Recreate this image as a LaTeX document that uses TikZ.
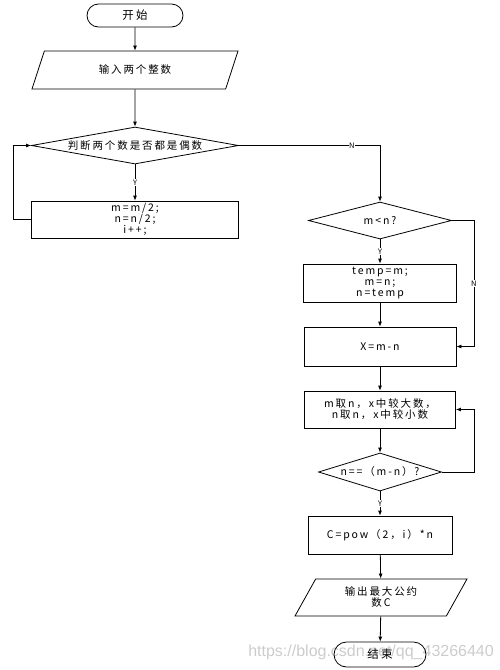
\documentclass[tikz,border=0pt]{standalone}
\usepackage{fontspec}
\setmainfont[LetterSpace=18]{Noto Sans CJK SC}
\newfontfamily\markfont{Liberation Sans}
\usetikzlibrary{shapes.geometric,arrows.meta}

\tikzset{
        box/.style={draw, line width=0.8pt, align=center, font=\fontsize{10.5}{11}\selectfont},
        term/.style={box, rounded corners=11.5pt, minimum width=96pt, minimum height=23pt, font=\fontsize{11.5}{12}\selectfont},
        proc/.style={box, inner sep=1pt},
        io/.style={box, trapezium, trapezium left angle=53, trapezium right angle=127, trapezium stretches body},
        test/.style={box, diamond, inner sep=0pt},
        yn/.style={font=\fontsize{7.5}{8}\selectfont, fill=white, inner sep=0.4pt},
        flow/.style={draw, line width=0.8pt, -{Latex[length=5pt,width=4pt]}}
}

\begin{document}
\begin{tikzpicture}[x=1pt, y=-1pt]
        \useasboundingbox (0,0) rectangle (500,670);

        \node (start) at (135,15.5) [term] {开始};
        \node (input) at (135,70) [io, minimum width=206pt, minimum height=38pt] {输入两个整数};
        \node (even) at (135,145.5) [test, minimum width=207pt, minimum height=37pt] {\makebox[0pt]{判断两个数是否都是偶数}};
        \node (half) at (135,219.5) [proc, minimum width=207pt, minimum height=37pt] {m=m/2;\\n=n/2;\\i++;};

        \node (less) at (380,220.5) [test, minimum width=143pt, minimum height=37pt] {\makebox[0pt]{m<n?}};
        \node (swap) at (380,283) [proc, minimum width=153pt, minimum height=38pt] {temp=m;\\m=n;\\n=temp};
        \node (diff) at (380,346.5) [proc, minimum width=152pt, minimum height=39pt] {X=m-n};
        \node (pick) at (380,409.5) [proc, minimum width=151pt, minimum height=37pt] {m取n，x中较大数，\\n取n，x中较小数};
        \node (equal) at (380,472) [test, minimum width=123pt, minimum height=38pt] {\makebox[0pt]{n==（m-n）?}};
        \node (pow) at (380,535) [proc, minimum width=144pt, minimum height=38pt] {C=pow（2，i）*n};
        \node (output) at (381,597.5) [io, minimum width=172pt, minimum height=37pt] {输出最大公约\\数C};
        \node (end) at (380,654.5) [term, minimum width=92pt, minimum height=25pt, rounded corners=12.5pt] {结束};

        \draw[flow] (start) -- (input);
        \draw[flow] (input) -- (even);
        \draw[flow] (even) -- node[yn] {Y} (half);
        \draw[flow] (half.west) -- ++(-18,0) |- (even.west);
        \draw[flow] (even.east) -| node[yn, pos=0.4] {N} (less);

        \draw[flow] (less) -- node[yn] {Y} (swap);
        \draw[flow] (less.east) -- ++(22,0) |- node[yn, pos=0.25] {N} (diff.east);
        \draw[flow] (swap) -- (diff);
        \draw[flow] (diff) -- (pick);
        \draw[flow] (pick) -- (equal);
        \draw[flow] (equal.east) -- ++(32,0) |- (pick.east);
        \draw[flow] (equal) -- node[yn] {Y} (pow);
        \draw[flow] (pow) -- (output);
        \draw[flow] (output) -- (end);

        \node (mark) at (494,656) [anchor=base east, inner sep=0pt, font=\markfont\fontsize{16}{16}\selectfont, text=black, text opacity=0.2] {https://blog.csdn.net/qq\_43266440};
\end{tikzpicture}
\end{document}
